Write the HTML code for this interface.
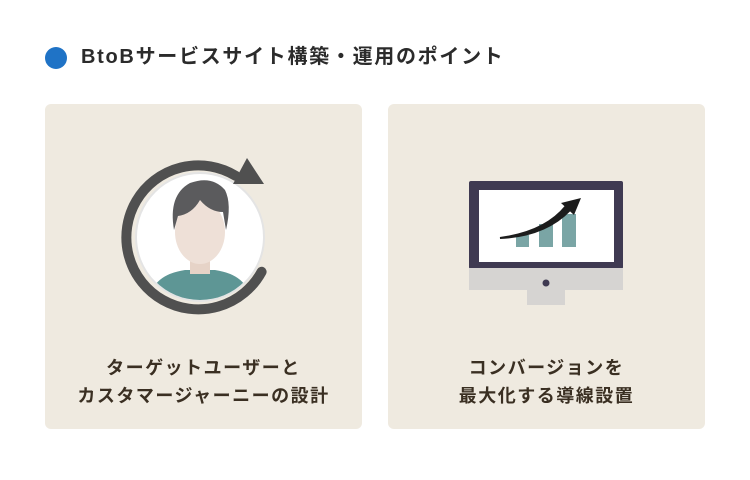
<!DOCTYPE html>
<html><head><meta charset="utf-8"><style>
body{margin:0;width:750px;height:480px;background:#fff;position:relative;overflow:hidden;font-family:"Liberation Sans","Noto Sans CJK JP",sans-serif;}
.dot{position:absolute;left:45px;top:47px;width:22px;height:22px;border-radius:50%;background:#1f73c6}
.title{position:absolute;left:81px;top:43px;font-size:20px;font-weight:bold;color:#2b2b2b;letter-spacing:1.7px;white-space:nowrap;line-height:28px}
.card{position:absolute;top:104px;width:317px;height:325px;background:#efeae0;border-radius:6px}
.txt{position:absolute;left:0;right:0;top:354px;text-align:center;font-size:18px;font-weight:bold;color:#3a2f22;line-height:28px;white-space:nowrap;letter-spacing:1.5px}
svg{position:absolute;left:0;top:0}
</style></head><body>
<div class="dot"></div>
<div class="title">BtoBサービスサイト構築・運用のポイント</div>
<div class="card" style="left:45px"></div>
<div class="card" style="left:388px"></div>
<svg width="750" height="480">
<defs><clipPath id="c"><circle cx="200" cy="237" r="63"/></clipPath></defs>
<circle cx="200" cy="237" r="64" fill="#fff" stroke="#e4e4e4" stroke-width="2"/>
<g clip-path="url(#c)">
<path d="M150 300 Q152 275 185 270 L215 270 Q248 275 250 300 Z" fill="#5e9695"/>
<rect x="190" y="250" width="20" height="24" fill="#e6d3c7"/>
<ellipse cx="200" cy="232" rx="25" ry="32" fill="#eee0d7"/>
<path d="M174 230 Q168 195 190 183 Q212 175 225 190 Q232 204 226 230 L223 212 Q210 212 200 200 Q192 214 178 216 Z" fill="#5b5b5d"/>
</g>
<path d="M261.6 271.8 A72 72 0 1 1 236 176" fill="none" stroke="#505050" stroke-width="10" stroke-linecap="round"/>
<polygon points="247,158 264,184 233,184" fill="#505050"/>
<rect x="469" y="181" width="154" height="88" fill="#3f3a52" rx="2"/>
<rect x="479" y="190" width="135" height="72" fill="#fff"/>
<rect x="469" y="268" width="154" height="22" fill="#d6d4d2"/>
<circle cx="546" cy="283" r="3.5" fill="#3f3a52"/>
<rect x="527" y="290" width="38" height="15" fill="#d6d4d2"/>
<rect x="516" y="235" width="13" height="12" fill="#7aa5a5"/>
<rect x="539" y="224" width="14" height="23" fill="#7aa5a5"/>
<rect x="562" y="214" width="14" height="33" fill="#7aa5a5"/>
<path d="M500 238 Q545 236 570 210 L566 206 Q545 232 500 238 Z" fill="#1c1c1c" stroke="#1c1c1c" stroke-width="2"/>
<polygon points="581,198 574,215 561,203" fill="#1c1c1c"/>
</svg>
<div class="txt" style="left:45px;width:317px">ターゲットユーザーと<br>カスタマージャーニーの設計</div>
<div class="txt" style="left:388px;width:317px">コンバージョンを<br>最大化する導線設置</div>
</body></html>
